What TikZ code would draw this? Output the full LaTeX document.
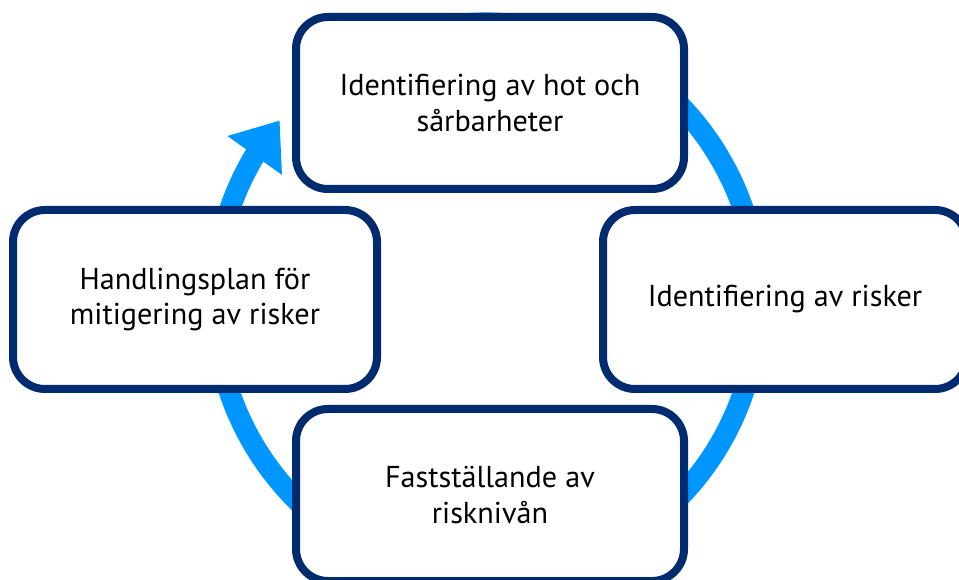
\documentclass[tikz,border=0pt]{standalone}
\usepackage{fontspec}
\setmainfont{PT Sans}
\usepackage{tikz}
\usetikzlibrary{arrows.meta,bending}

\definecolor{boxnavy}{HTML}{002B6E}
\definecolor{ringblue}{HTML}{0096FF}

\begin{document}
\begin{tikzpicture}[x=1pt,y=1pt]
% Box style
\tikzset{
    stepnode/.style={draw=boxnavy, line width=8pt, fill=white,
        rounded corners=32pt, align=center,
        font=\fontsize{30.2}{35.5}\selectfont},
    wide/.style={minimum width=388pt, minimum height=172pt},
    narrow/.style={minimum width=364pt, minimum height=179pt}
}
\useasboundingbox (0,0) rectangle (959,579);
% Cycle ring
\draw[ringblue, line width=21pt, -{Triangle[length=43pt,width=64pt]}]
    (486.5,278) ++(120:272 and 278)
    arc[start angle=120, end angle=-220.5, x radius=272, y radius=278];
% Steps
\node[stepnode, wide] (hot) at (490,476){Identifiering av hot och\\sårbarheter};
\node[stepnode, narrow] (risker) at (785,279.5){Identifiering av risker};
\node[stepnode, wide] (niva) at (490,84){Fastställande av\\risknivån};
\node[stepnode, narrow] (plan) at (195,279.5){Handlingsplan för\\mitigering av risker};
\end{tikzpicture}
\end{document}
